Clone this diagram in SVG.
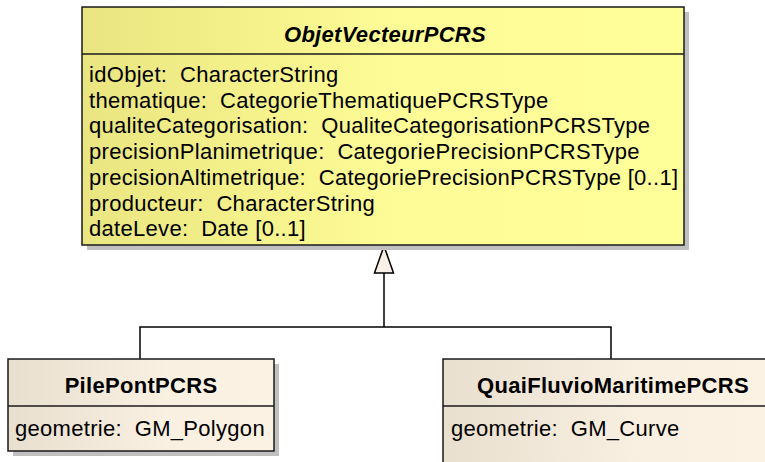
<svg xmlns="http://www.w3.org/2000/svg" width="765" height="462" viewBox="0 0 765 462">
<style>
  text { font-family: "Liberation Sans", Arial, sans-serif; font-size: 22px; fill: #000; white-space: pre; letter-spacing: 0.3px; }
  .title { font-weight: bold; text-anchor: middle; }
  .abstract { font-style: italic; }
  .box { stroke: #1a1a1a; stroke-width: 1.5; }
  .shadow { fill: #c0c0c0; }
  .div { stroke: #1a1a1a; stroke-width: 1.5; fill: none; }
  .conn { stroke: #000; stroke-width: 1.5; fill: none; }
</style>
<defs>
  <linearGradient id="gYellow" x1="0" y1="0" x2="1" y2="0">
    <stop offset="0" stop-color="#e9e580"/>
    <stop offset="0.5" stop-color="#fdfb95"/>
    <stop offset="1" stop-color="#ffff99"/>
  </linearGradient>
  <linearGradient id="gLinen" x1="0" y1="0" x2="1" y2="0">
    <stop offset="0" stop-color="#e8dfcf"/>
    <stop offset="0.6" stop-color="#faf0e2"/>
    <stop offset="1" stop-color="#fcf2e4"/>
  </linearGradient>
</defs>

<g id="connectors">
  <polyline class="conn" points="140,359 140,327 611,327 611,359"/>
  <line class="conn" x1="384" y1="327" x2="384" y2="273"/>
  <polygon points="384,246 374.5,273 393.5,273" fill="#faf0e6" stroke="#000" stroke-width="1.5"/>
</g>

<g id="ObjetVecteurPCRS">
  <rect class="shadow" x="87" y="12" width="602" height="238"/>
  <rect class="box" x="82" y="7" width="602" height="238" fill="url(#gYellow)"/>
  <line class="div" x1="82" y1="54" x2="684" y2="54"/>
  <text class="title abstract" x="385" y="42">ObjetVecteurPCRS</text>
  <text x="89" y="82" xml:space="preserve">idObjet:  CharacterString</text>
  <text x="89" y="107.7" xml:space="preserve">thematique:  CategorieThematiquePCRSType</text>
  <text x="89" y="133.4" xml:space="preserve">qualiteCategorisation:  QualiteCategorisationPCRSType</text>
  <text x="89" y="159.1" xml:space="preserve">precisionPlanimetrique:  CategoriePrecisionPCRSType</text>
  <text x="89" y="184.8" xml:space="preserve">precisionAltimetrique:  CategoriePrecisionPCRSType [0..1]</text>
  <text x="89" y="210.5" xml:space="preserve">producteur:  CharacterString</text>
  <text x="89" y="236.2" xml:space="preserve">dateLeve:  Date [0..1]</text>
</g>

<g id="PilePontPCRS">
  <rect class="shadow" x="13" y="364" width="266" height="92"/>
  <rect class="box" x="8" y="359" width="266" height="92" fill="url(#gLinen)"/>
  <line class="div" x1="8" y1="406" x2="274" y2="406"/>
  <text class="title" x="141" y="393">PilePontPCRS</text>
  <text x="15" y="436" xml:space="preserve">geometrie:  GM_Polygon</text>
</g>

<g id="QuaiFluvioMaritimePCRS">
  <rect class="shadow" x="448" y="364" width="340" height="110"/>
  <rect class="box" x="443" y="359" width="340" height="110" fill="url(#gLinen)"/>
  <line class="div" x1="443" y1="406" x2="783" y2="406"/>
  <text class="title" x="613" y="393">QuaiFluvioMaritimePCRS</text>
  <text x="451" y="436" xml:space="preserve">geometrie:  GM_Curve</text>
</g>
</svg>
